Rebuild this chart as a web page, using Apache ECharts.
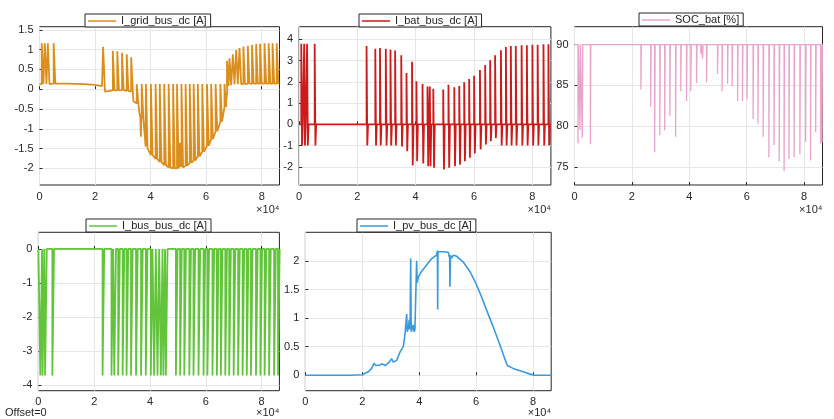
<!DOCTYPE html>
<html>
<head>
<meta charset="utf-8">
<script src="https://cdn.jsdelivr.net/npm/echarts@6/dist/echarts.min.js"></script>
<style>html,body{margin:0;background:#fff}#main{width:834px;height:419px}</style>
</head>
<body>
<div id="main"></div>
<script>
var FONT = 'Liberation Sans';
var T_MAX = 8.64; // x in units of 1e4 s
var X_TICKS = [0, 2, 4, 6, 8];

// I_grid: [t, level] or [t, level, pulse peak]
var gridData = [
  [0, 0.13], [0.11, 0.13, 1.16], [0.22, 0.13, 1.16], [0.33, 0.13, 1.16], [0.54, 0.14, 1.16],
  [1.0, 0.14], [1.6, 0.13], [2.0, 0.11], [2.25, 0.08],
  [2.32, 0.06, 1.07],
  [2.36, -0.06], [2.42, -0.09], [2.48, -0.05], [2.55, -0.07],
  [2.67, -0.03, 0.97], [2.75, -0.02], [2.83, -0.03, 0.96], [2.92, -0.01], [3.0, -0.02, 0.92],
  [3.08, -0.03], [3.17, -0.04, 0.88], [3.25, -0.05], [3.33, -0.06, 0.81],
  [3.38, -0.3], [3.45, -0.34],
  [3.53, -0.36, 0.13], [3.6, -0.62], [3.63, -0.7], [3.65, -1.2], [3.665, -0.72], [3.69, -0.66],
  [3.71, -0.74, 0.13], [3.76, -0.78], [3.82, -1.45],
  [3.86, -1.5, 0.13], [4.04, -1.66, 0.13], [4.21, -1.76, 0.13], [4.36, -1.84, 0.13],
  [4.52, -1.92, 0.13], [4.68, -1.98, 0.13], [4.84, -2.0, 0.13], [4.98, -2.0, 0.13],
  [5.02, -1.4], [5.04, -1.97], [5.06, -1.35], [5.08, -1.96], [5.1, -1.45], [5.12, -1.97],
  [5.14, -1.98, 0.13], [5.29, -1.93, 0.13], [5.44, -1.86, 0.13], [5.58, -1.8, 0.13],
  [5.73, -1.7, 0.13], [5.89, -1.58, 0.13], [6.06, -1.43, 0.13], [6.21, -1.26, 0.13],
  [6.37, -1.06, 0.13], [6.54, -0.82, 0.13], [6.69, -0.45, 0.13],
  [6.72, -0.3], [6.76, -0.05],
  [6.78, 0.08, 0.72], [6.87, 0.1, 0.78], [6.99, 0.12, 0.88], [7.11, 0.13, 0.99], [7.23, 0.13, 1.04],
  [7.37, 0.13, 1.08], [7.53, 0.14, 1.1], [7.68, 0.14, 1.12], [7.83, 0.14, 1.14], [7.97, 0.14, 1.15],
  [8.13, 0.14, 1.16], [8.28, 0.14, 1.16], [8.42, 0.14, 1.16], [8.57, 0.14, 1.16], [8.64, 0.14]
];

// I_bat: pulse times, upper and lower peaks
var batTimes = [0.1, 0.2, 0.3, 0.56, 2.34, 2.64, 2.80, 3.0, 3.16, 3.32, 3.53, 3.71, 3.90, 4.05, 4.26,
  4.43, 4.51, 4.63, 4.97, 5.15, 5.35, 5.52, 5.69, 5.86, 6.03, 6.23, 6.41, 6.58, 6.75, 6.95,
  7.12, 7.29, 7.46, 7.66, 7.84, 8.03, 8.21, 8.41, 8.58];
var batUp = [3.8, 3.8, 3.8, 3.8, 3.69, 3.56, 3.6, 3.56, 3.53, 3.48, 3.25, 2.42, 2.95, 2.03, 1.9,
  1.78, 1.78, 1.67, 1.64, 1.86, 1.75, 1.81, 1.98, 2.14, 2.29, 2.56, 2.79, 3.02, 3.26, 3.49,
  3.64, 3.69, 3.69, 3.72, 3.73, 3.75, 3.75, 3.77, 3.77];
var batDown = [-1.0, -1.0, -1.0, -1.0, -1.0, -1.0, -1.0, -1.0, -1.0, -1.0, -1.05, -1.27, -1.94, -1.74, -1.85,
  -1.98, -1.98, -2.05, -2.13, -2.05, -1.98, -1.9, -1.74, -1.58, -1.38, -1.19, -0.95, -0.8, -0.65, -1.0,
  -1.0, -1.0, -1.0, -1.0, -1.0, -1.0, -1.0, -1.0, -1.0];

// SOC_bat: dip times and dip minima
var socTimes = [0.13, 0.2, 0.28, 0.56, 2.32, 2.66, 2.80, 2.98, 3.15, 3.33, 3.53, 3.71, 3.91, 4.06, 4.26,
  4.41, 4.47, 4.61, 4.99, 5.15, 5.34, 5.50, 5.69, 5.86, 6.02, 6.23, 6.40, 6.58, 6.78, 6.96,
  7.14, 7.31, 7.48, 7.66, 7.86, 8.06, 8.23, 8.41, 8.58, 8.63];
var socMin = [77.9, 79.5, 78.6, 77.8, 84.5, 82.4, 76.8, 78.9, 79.5, 81.3, 78.7, 84.3, 83.1, 84.3, 85.3,
  88.9, 88.3, 85.4, 86.4, 84.3, 85.2, 84.9, 83.1, 83.1, 83.3, 80.9, 80.3, 78.7, 76.2, 77.7,
  75.7, 74.5, 76.0, 76.2, 76.6, 78.1, 75.8, 79.3, 77.9, 78.0];

// I_bus: pulse times, all to the same depth
var busTimes = [0.1, 0.18, 0.27, 0.53, 2.33, 2.65, 2.75, 2.89, 3.05, 3.19, 3.35, 3.53, 3.71, 3.88, 4.06,
  4.18, 4.30, 4.42, 4.51, 4.60, 4.96, 5.11, 5.26, 5.44, 5.59, 5.77, 5.95, 6.09, 6.27, 6.43,
  6.57, 6.73, 6.87, 7.03, 7.19, 7.35, 7.50, 7.65, 7.83, 7.99, 8.14, 8.30, 8.48, 8.62];
var busDepth = -3.72;

// I_pv curve
var pvData = [[0, 0], [1.0, 0], [1.57, 0], [2.0, 0.01], [2.21, 0.06], [2.33, 0.12], [2.41, 0.21], [2.48, 0.17],
  [2.62, 0.18], [2.7, 0.2], [2.74, 0.22], [2.8, 0.17], [2.95, 0.23], [3.03, 0.29], [3.09, 0.23],
  [3.21, 0.26], [3.33, 0.41], [3.44, 0.5], [3.5, 0.71], [3.56, 1.07], [3.58, 0.76], [3.62, 0.82],
  [3.65, 0.97], [3.68, 0.8], [3.70, 2.04], [3.72, 0.76], [3.79, 0.88], [3.82, 0.76], [3.85, 0.8],
  [3.89, 0.78], [3.91, 2.0], [3.93, 1.62], [3.97, 1.72], [4.09, 1.82], [4.26, 1.93], [4.44, 2.04],
  [4.61, 2.1], [4.64, 2.18], [4.65, 1.15], [4.66, 2.16], [4.71, 2.13], [4.85, 2.16], [5.02, 2.15],
  [5.07, 2.05], [5.08, 1.55], [5.1, 2.1], [5.14, 2.05], [5.2, 2.1], [5.32, 2.08], [5.55, 1.98],
  [5.8, 1.8], [6.0, 1.6], [6.2, 1.36], [6.4, 1.1], [6.6, 0.85], [6.8, 0.58], [7.0, 0.3], [7.1, 0.17],
  [7.3, 0.12], [7.6, 0.07], [7.9, 0.02], [8.05, 0], [8.64, 0]];

function stepLine(list, w) {
  var out = [];
  list.forEach(function (p) {
    if (p.length < 3) { out.push([p[0], p[1]]); return; }
    out.push([p[0] - w, p[1]], [p[0] - w, p[2]], [p[0] + w, p[2]], [p[0] + w, p[1]]);
  });
  return out;
}
function pulses(times, base, peaks, w) {
  var out = [[0, base]];
  times.forEach(function (t, i) {
    var pk = Array.isArray(peaks) ? peaks[i] : peaks;
    out.push([t - w, base], [t - w, pk], [t + w, pk], [t + w, base]);
  });
  out.push([T_MAX, base]);
  return out;
}
function biPulses(times, up, down, w) {
  var out = [[0, 0]];
  times.forEach(function (t, i) {
    out.push([t - w, 0], [t - w, up[i]], [t, up[i]], [t, down[i]], [t + w, down[i]], [t + w, 0]);
  });
  out.push([T_MAX, 0]);
  return out;
}

var grids = [
  { left: 39.5, top: 26.7, width: 240, height: 158.3 },
  { left: 299.1, top: 26.7, width: 251.8, height: 158.3 },
  { left: 574.5, top: 26.7, width: 248, height: 158.3 },
  { left: 38.4, top: 232.3, width: 241, height: 158.4 },
  { left: 305.4, top: 232.3, width: 245.8, height: 158.4 }
];
grids.forEach(function (g) {
  g.show = true; g.borderColor = '#262626'; g.borderWidth = 1; g.backgroundColor = '#fff';
});

var yRanges = [
  { min: -2.42, max: 1.58, ticks: [-2, -1.5, -1, -0.5, 0, 0.5, 1, 1.5] },
  { min: -2.86, max: 4.6, ticks: [-2, -1, 0, 1, 2, 3, 4] },
  { min: 72.8, max: 92.2, ticks: [75, 80, 85, 90] },
  { min: -4.17, max: 0.49, ticks: [-4, -3, -2, -1, 0] },
  { min: -0.27, max: 2.5, ticks: [0, 0.5, 1, 1.5, 2] }
];

function axisCommon(ticks) {
  return {
    axisLine: { show: false },
    axisTick: { show: true, inside: true, length: 3, customValues: ticks, lineStyle: { color: '#262626' } },
    axisLabel: { customValues: ticks, margin: 6, fontSize: 11, color: '#262626', fontFamily: FONT },
    splitLine: { show: true, lineStyle: { color: '#E6E6E6', width: 1 } }
  };
}
var xAxes = grids.map(function (g, i) {
  return Object.assign({ type: 'value', gridIndex: i, min: 0, max: T_MAX }, axisCommon(X_TICKS));
});
var yAxes = yRanges.map(function (r, i) {
  return Object.assign({ type: 'value', gridIndex: i, min: r.min, max: r.max }, axisCommon(r.ticks));
});

var names = ['I_grid_bus_dc [A]', 'I_bat_bus_dc [A]', 'SOC_bat [%]', 'I_bus_bus_dc [A]', 'I_pv_bus_dc [A]'];
var colors = ['#DB8E1C', '#CC1B1B', '#E9A4CB', '#62C43A', '#3A9ADB'];
var widths = [1.8, 1.8, 1.3, 1.8, 1.6];
var seriesData = [
  stepLine(gridData, 0.03),
  biPulses(batTimes, batUp, batDown, 0.025),
  pulses(socTimes, 90, socMin, 0.008),
  pulses(busTimes, 0, busDepth, 0.03),
  pvData
];
var series = seriesData.map(function (d, i) {
  return {
    name: names[i], type: 'line', xAxisIndex: i, yAxisIndex: i, data: d,
    symbol: 'none', color: colors[i], lineStyle: { color: colors[i], width: widths[i] },
    animation: false, clip: true
  };
});

var legendPos = [[85, 14], [359, 14], [639, 13], [86, 219], [357, 219]];
var legends = names.map(function (n, i) {
  return {
    data: [n], left: legendPos[i][0], top: legendPos[i][1], selectedMode: false,
    icon: 'rect', itemWidth: 28, itemHeight: 1.5,
    padding: [1, 4, 0, 3],
    borderColor: '#262626', borderWidth: 1, backgroundColor: '#fff',
    textStyle: { fontSize: 11, lineHeight: 12, color: '#262626', fontFamily: FONT }
  };
});

function txt(s, x, y, align) {
  return { type: 'text', x: x, y: y, style: { text: s, fontSize: 11, fontFamily: FONT, fill: '#262626', align: align, verticalAlign: 'middle' } };
}

var chart = echarts.init(document.getElementById('main'));
chart.setOption({
  backgroundColor: '#fff',
  grid: grids,
  xAxis: xAxes,
  yAxis: yAxes,
  legend: legends,
  series: series,
  graphic: [
    txt('×10⁴', 279.5, 210, 'right'),
    txt('×10⁴', 551, 210, 'right'),
    txt('×10⁴', 822.5, 210, 'right'),
    txt('×10⁴', 279.4, 413, 'right'),
    txt('×10⁴', 551.2, 413, 'right'),
    txt('Offset=0', 5, 413, 'left')
  ]
});
</script>
</body>
</html>
